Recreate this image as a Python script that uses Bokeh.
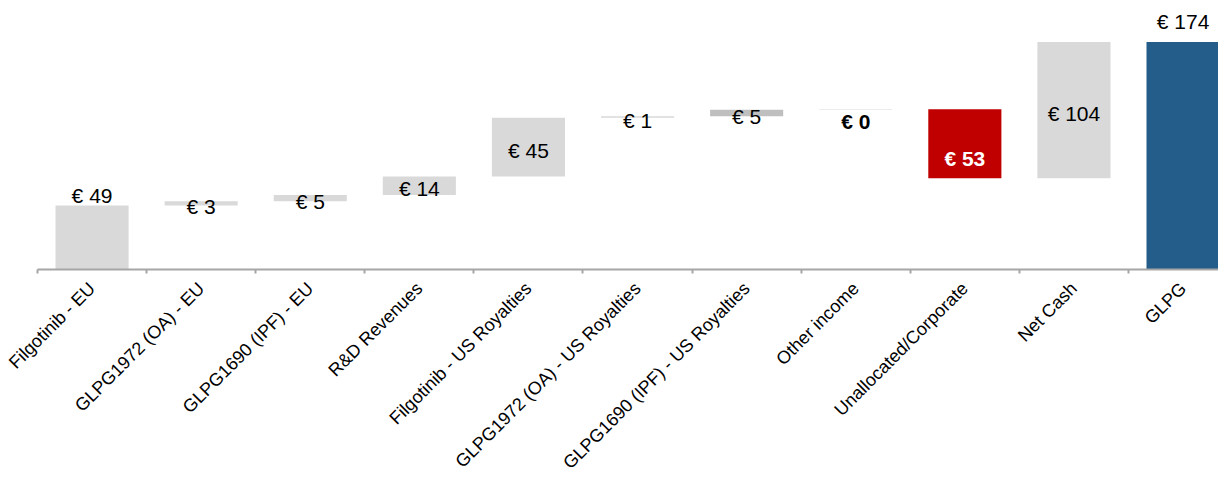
import math
from bokeh.plotting import figure
from bokeh.models import ColumnDataSource, FixedTicker, Range1d
from bokeh.core.properties import value
from bokeh.embed import file_html
from bokeh.resources import INLINE

categories = ["Filgotinib - EU", "GLPG1972 (OA) - EU", "GLPG1690 (IPF) - EU",
              "R&D Revenues", "Filgotinib - US Royalties", "GLPG1972 (OA) - US Royalties",
              "GLPG1690 (IPF) - US Royalties", "Other income", "Unallocated/Corporate",
              "Net Cash", "GLPG"]
steps = [49.0, 3.2, 4.8, 14.3, 44.9, 1.1, 5.0, 0.4, -52.9, 104.4]
labels = ["€ 49", "€ 3", "€ 5", "€ 14", "€ 45", "€ 1", "€ 5", "€ 0", "€ 53", "€ 104", "€ 174"]

# waterfall geometry
bottoms, tops = [], []
run = 0.0
for v in steps:
    lo, hi = sorted([run, run + v])
    bottoms.append(lo)
    tops.append(hi)
    run += v
bottoms.append(0.0)
tops.append(run)

colors = ["#d9d9d9"] * 6 + ["#bfbfbf", "#d9d9d9", "#c00000", "#d9d9d9", "#255d8a"]
xs = list(range(len(categories)))

# label anchors (style)
anchor = ["top", "mid", "mid", "mid", "mid", "mid", "mid", "top", "bottom", "mid", "top"]
offs = [-10, 3, 3, 3, 3, 3, 3, 12, -20, 3, -21]
ly = []
for i, a in enumerate(anchor):
    if a == "top":
        ly.append(tops[i])
    elif a == "bottom":
        ly.append(bottoms[i])
    else:
        ly.append((tops[i] + bottoms[i]) / 2)
tcolors = ["black"] * 8 + ["white", "black", "black"]
tstyles = ["normal"] * 7 + ["bold", "bold", "normal", "normal"]

p = figure(width=1218, height=485, x_range=Range1d(-0.5, 10.325), y_range=Range1d(0, 206),
           output_backend="svg", toolbar_location=None,
           min_border_left=37, min_border_right=0, min_border_top=0, min_border_bottom=216)
p.yaxis.visible = False
p.grid.visible = False
p.outline_line_color = None
p.background_fill_color = "white"

bars = ColumnDataSource(dict(x=xs, bottom=bottoms, top=tops, color=colors))
p.vbar(x="x", bottom="bottom", top="top", width=0.67, fill_color="color", line_color=None, source=bars)

lab = ColumnDataSource(dict(x=xs, y=ly, text=labels, off=offs, tc=tcolors, ts=tstyles))
p.text(x="x", y="y", text="text", y_offset="off", text_color="tc", text_font_style="ts",
       text_align="center", text_baseline="middle",
       text_font=value("Liberation Sans"), text_font_size="21px", source=lab)

ax = p.xaxis[0]
ax.ticker = FixedTicker(ticks=xs, minor_ticks=[i - 0.5 for i in range(len(categories) + 1)])
ax.major_label_overrides = {i: c for i, c in enumerate(categories)}
ax.major_tick_line_color = None
ax.minor_tick_in = 0
ax.minor_tick_out = 4
ax.minor_tick_line_color = "#a6a6a6"
ax.minor_tick_line_width = 2
ax.axis_line_color = "#a6a6a6"
ax.axis_line_width = 2
ax.major_label_orientation = math.pi / 4
ax.major_label_standoff = 10
ax.major_label_text_font = "Liberation Sans"
ax.major_label_text_font_size = "18px"
ax.major_label_text_color = "black"

open("out.html", "w").write(file_html(p, INLINE))
